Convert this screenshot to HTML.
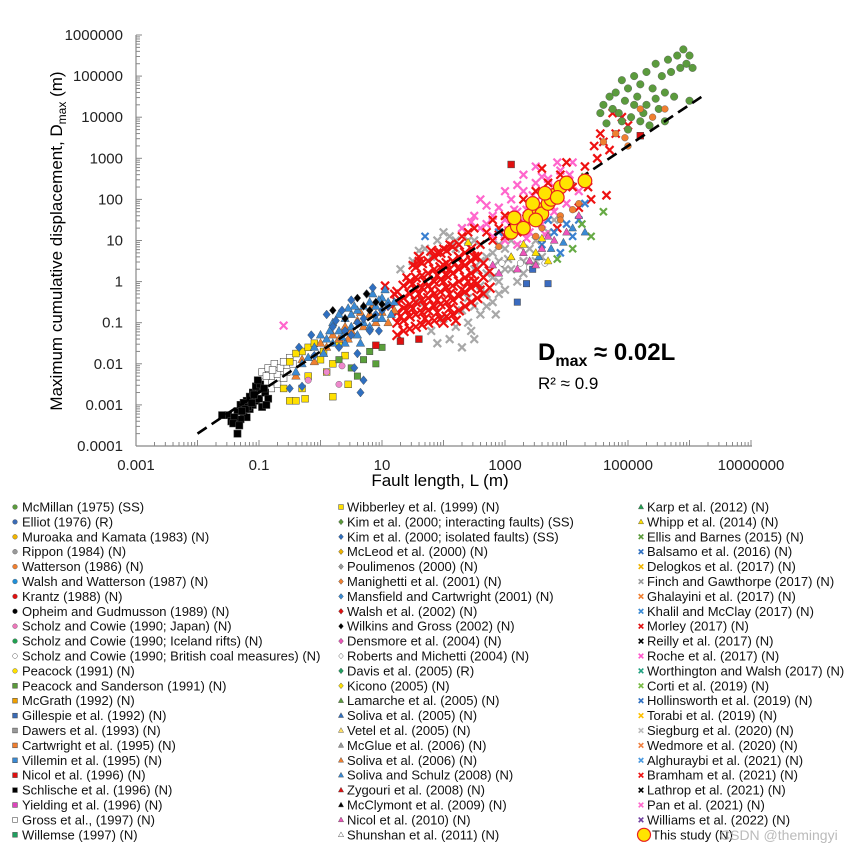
<!DOCTYPE html>
<html><head><meta charset="utf-8"><style>
body{margin:0;background:#fff;width:853px;height:851px;overflow:hidden;font-family:"Liberation Sans",Arial,sans-serif}
svg{display:block}
</style></head><body>
<svg id="chart" width="853" height="851" viewBox="0 0 853 851" xmlns="http://www.w3.org/2000/svg" font-family="Liberation Sans, Arial, sans-serif">
<g id="marks"></g>
<g id="axes"></g>
<text x="538" y="360" font-size="24" font-weight="bold">D<tspan font-size="16" dy="6">max</tspan><tspan dy="-6"> ≈ 0.02L</tspan></text>
<text x="538" y="389" font-size="17">R² ≈ 0.9</text>
<text x="440" y="486" font-size="17" text-anchor="middle">Fault length, L (m)</text>
<text transform="translate(62,241) rotate(-90)" font-size="17" text-anchor="middle">Maximum cumulative  displacement, D<tspan font-size="12" dy="4">max</tspan><tspan dy="-4"> (m)</tspan></text>
<g id="legend"></g>
</svg>
<script>
// log10 values [logL, logD]
const schlische=[[-1.5,-3.25],[-1.45,-3.4],[-1.35,-3.15],[-1.35,-3.7],[-1.3,-3.0],[-1.25,-3.2],[-1.2,-2.9],[-1.2,-3.3],[-1.15,-2.8],[-1.15,-3.1],[-1.1,-2.7],[-1.1,-3.0],[-1.05,-2.9],[-1.0,-2.6],[-1.0,-2.85],[-0.95,-3.05],[-0.9,-2.7],[-1.25,-2.95],[-1.3,-3.35],[-1.4,-3.3],[-1.05,-2.55],[-1.18,-3.05],[-1.08,-2.75],[-0.98,-2.5],[-1.22,-3.1],[-1.12,-2.95],[-1.28,-3.15],[-0.85,-2.85],[-0.88,-3.0],[-1.6,-3.25],[-1.42,-3.45],[-1.32,-3.5],[-1.02,-2.4],[-0.92,-2.6]];
const gross=[[-0.95,-2.2],[-0.9,-2.45],[-0.85,-2.1],[-0.8,-2.3],[-0.75,-2.0],[-0.7,-2.25],[-0.65,-2.1],[-0.6,-1.95],[-0.55,-2.2],[-0.5,-1.85],[-0.45,-2.0],[-0.8,-2.6],[-1.0,-2.5],[-0.7,-2.5],[-0.6,-2.35],[-0.88,-2.3],[-0.78,-2.15]];
const wibberley=[[-0.6,-2.6],[-0.5,-2.9],[-0.4,-2.9],[-0.3,-2.6],[-0.2,-2.3],[-0.3,-1.7],[-0.2,-1.6],[0.0,-1.9],[0.1,-2.2],[0.2,-2.0],[0.3,-1.5],[0.4,-1.8],[-0.1,-1.5],[0.2,-2.8],[0.45,-2.5],[-0.4,-1.75],[-0.5,-1.95],[-0.25,-2.85],[0.05,-1.7]];
const kimIsolated=[[-0.5,-2.6],[-0.3,-2.55],[-0.1,-1.8],[0.3,-1.6],[0.5,-1.3],[0.6,-1.0],[0.7,-2.4],[0.8,-1.2],[0.9,-0.8],[1.0,-0.7],[0.55,-2.1],[0.7,-0.9],[0.4,-1.2],[1.1,-0.6],[0.2,-1.1],[0.65,-2.7],[0.1,-0.8],[0.35,-0.7],[0.5,-0.45],[0.75,-0.3],[0.85,-0.15],[0.25,-0.95],[-0.15,-1.3],[-0.35,-1.6],[0.6,-1.75],[0.95,-1.2]];
const blueTri=[[0.0,-1.3],[0.1,-1.4],[0.2,-1.0],[0.3,-1.2],[0.4,-0.9],[0.5,-0.8],[0.6,-0.7],[0.7,-0.6],[0.8,-0.5],[0.9,-0.6],[1.0,-0.4],[1.1,-0.5],[0.5,-1.1],[0.7,-1.0],[0.9,-0.9],[0.3,-0.8],[0.6,-1.3],[0.8,-1.1],[1.0,-0.9],[1.2,-0.5],[0.4,-1.5],[0.2,-1.5],[0.15,-1.2],[-0.1,-1.6],[-0.3,-2.0],[-0.2,-1.85],[0.05,-1.75],[0.35,-1.35],[0.55,-0.6],[0.85,-0.3],[1.05,-0.2],[1.15,-0.8],[0.65,-1.5],[-0.4,-2.2],[0.45,-0.65],[0.95,-0.45]];
const orangeTri=[[0.1,-1.6],[0.3,-1.4],[0.5,-1.2],[0.7,-1.1],[0.9,-1.0],[1.0,-0.75],[0.6,-0.95],[0.8,-0.8],[0.4,-1.1],[1.2,-0.7],[-0.3,-1.9],[-0.4,-2.3],[0.0,-1.5],[0.2,-1.3],[0.65,-0.75],[0.85,-0.6],[1.1,-1.0],[0.45,-1.4],[-0.1,-1.95]];
const blackDia=[[0.7,-0.6],[0.9,-0.5],[0.8,-0.7],[0.4,-0.9],[1.0,-0.55],[0.6,-0.4],[0.75,-0.3],[0.2,-0.7]];
const greenSq=[[1.0,-1.6],[0.8,-1.7],[0.7,-1.9],[0.6,-2.3],[0.9,-2.0],[0.3,-1.9],[0.5,-2.1]];
const pinkCirc=[[0.1,-2.2],[0.3,-2.5],[0.35,-2.05],[-0.2,-2.4]];
const redSq=[[1.3,-1.45],[1.6,-1.4],[3.1,2.85],[5.2,3.55],[0.9,-1.55]];
const redCore=[[1.25,-1.3],[1.25,-1.0],[1.25,-0.75],[1.25,-0.5],[1.25,-0.25],[1.35,-1.2],[1.35,-0.95],[1.35,-0.65],[1.35,-0.4],[1.35,-0.1],[1.45,-1.15],[1.45,-0.85],[1.45,-0.55],[1.45,-0.3],[1.45,0.0],[1.55,-1.1],[1.55,-0.8],[1.55,-0.5],[1.55,-0.2],[1.55,0.1],[1.55,0.35],[1.65,-1.05],[1.65,-0.75],[1.65,-0.45],[1.65,-0.15],[1.65,0.15],[1.65,0.45],[1.75,-1.0],[1.75,-0.7],[1.75,-0.4],[1.75,-0.1],[1.75,0.2],[1.75,0.5],[1.85,-0.95],[1.85,-0.6],[1.85,-0.3],[1.85,0.0],[1.85,0.3],[1.85,0.6],[1.95,-0.9],[1.95,-0.55],[1.95,-0.25],[1.95,0.05],[1.95,0.35],[1.95,0.7],[2.05,-0.85],[2.05,-0.5],[2.05,-0.15],[2.05,0.15],[2.05,0.45],[2.05,0.75],[2.15,-0.8],[2.15,-0.45],[2.15,-0.1],[2.15,0.2],[2.15,0.5],[2.15,0.85],[2.25,-0.7],[2.25,-0.35],[2.25,0.0],[2.25,0.3],[2.25,0.6],[2.25,0.9],[2.35,-0.6],[2.35,-0.25],[2.35,0.1],[2.35,0.4],[2.35,0.7],[2.45,-0.5],[2.45,-0.15],[2.45,0.2],[2.45,0.5],[2.45,0.8],[2.55,-0.4],[2.55,-0.05],[2.55,0.3],[2.55,0.6],[2.65,-0.3],[2.65,0.1],[2.65,0.45],[2.75,-0.15],[2.75,0.25],[1.3,-0.85],[1.3,-0.45],[1.5,-0.65],[1.5,-0.05],[1.7,-0.6],[1.7,0.0],[1.7,-0.9],[1.9,-0.45],[1.9,0.15],[1.9,-0.75],[2.1,-0.3],[2.1,0.3],[2.1,-0.65],[2.3,-0.2],[2.3,0.45],[2.5,0.0],[2.5,0.6],[1.6,0.6],[1.8,0.75],[2.0,-1.0],[2.2,-0.95],[1.8,-0.2],[2.0,0.0],[2.0,0.4],[1.6,-0.3],[2.4,0.0],[1.4,-0.7]];
const redX=[[1.2,-0.3],[1.4,0.1],[1.5,0.4],[1.6,0.5],[1.9,0.7],[2.0,0.8],[2.1,0.9],[2.3,1.1],[2.4,1.2],[2.5,1.3],[2.6,0.9],[2.7,1.2],[2.8,1.0],[2.8,1.5],[2.9,1.3],[3.0,1.1],[3.0,1.6],[2.6,-0.2],[1.15,-0.6],[1.05,-0.1],[3.3,2.0],[3.5,2.2],[3.7,2.4],[3.9,2.6],[4.1,2.3],[4.3,2.8],[4.5,3.0],[4.4,2.0],[4.6,3.4],[4.8,3.6],[4.9,4.0],[5.0,3.8],[4.7,3.2],[3.2,1.2],[3.4,1.5],[4.2,1.8],[4.65,2.1],[4.55,3.6],[4.75,4.1],[3.85,1.3],[4.0,2.9],[3.6,2.75],[4.45,3.3],[4.35,2.3]];
const grayX=[[1.6,-0.5],[1.8,-1.2],[2.0,-0.9],[2.1,-1.4],[2.2,-1.1],[2.3,-0.7],[2.4,-1.0],[2.5,-0.6],[2.6,-0.8],[2.7,-0.3],[2.8,-0.5],[2.9,0.0],[3.0,-0.2],[3.1,0.3],[3.2,0.0],[3.3,0.5],[3.4,0.8],[3.5,1.0],[3.6,0.6],[3.0,0.8],[2.8,0.7],[2.6,0.9],[2.4,1.0],[2.2,0.8],[2.0,1.2],[1.8,0.6],[1.5,0.5],[1.3,0.3],[3.7,1.2],[3.8,1.5],[3.2,1.3],[2.5,-1.4],[2.3,-1.6],[1.9,-1.5],[2.7,0.2],[2.9,0.5],[2.5,0.3],[3.1,1.0],[1.7,0.8],[1.9,1.0],[2.1,1.1],[2.3,1.3],[2.5,1.0],[2.7,0.6],[2.9,0.9],[3.0,0.3],[2.8,0.1],[2.6,-0.1],[2.4,-0.4],[2.7,-0.6],[2.9,-0.3],[3.3,0.2],[3.5,0.5],[1.6,0.75],[2.2,1.0],[2.6,0.5],[3.05,0.55],[3.25,0.85],[2.85,-0.8],[2.45,-1.2]];
const pinkX=[[2.3,1.3],[2.5,1.6],[2.7,1.4],[2.9,1.8],[3.0,1.5],[3.1,2.0],[3.2,1.7],[3.3,2.2],[3.4,1.9],[3.5,2.4],[3.6,2.1],[3.7,2.5],[3.8,2.3],[3.9,2.7],[4.0,2.4],[4.1,2.9],[2.8,1.1],[3.0,1.0],[3.2,0.9],[3.4,1.2],[3.6,1.4],[3.8,1.7],[4.0,1.9],[4.2,2.2],[3.3,2.6],[3.5,2.8],[2.6,2.0],[-0.6,-1.07],[3.1,1.4],[3.7,2.0],[2.6,1.3],[2.8,1.6],[2.9,1.2],[3.0,2.2],[3.15,1.75],[3.25,1.45],[3.35,1.75],[3.45,2.1],[3.55,1.6],[3.75,1.85],[3.9,2.1],[4.05,2.6],[2.7,1.85],[3.05,1.25],[3.35,1.05],[3.65,1.15],[2.45,1.45],[3.2,2.35],[3.85,2.9],[3.6,2.55]];
const pinkTri=[[3.4,0.5],[3.6,0.8],[3.8,1.0],[4.0,1.2],[4.2,1.6],[3.2,0.3],[2.9,0.2],[3.3,0.7],[3.5,0.4],[3.7,1.1],[3.1,0.6],[2.8,0.4]];
const blueX=[[3.6,0.9],[3.8,1.2],[4.0,1.4],[4.2,1.5],[4.3,1.9],[2.9,1.2],[3.9,0.7],[4.1,1.1],[3.7,1.5],[1.7,1.1]];
const blueTriR=[[4.1,1.3],[4.3,1.2],[3.95,0.95],[3.55,0.6],[3.75,0.8]];
const yellowTri=[[3.3,0.9],[3.5,0.7],[3.7,0.5],[3.1,0.6],[2.4,0.95],[3.6,1.05]];
const whiteCirc=[[3.25,0.45],[3.4,0.35],[2.95,0.45],[3.65,0.45]];
const orangeCirc=[[3.6,1.3],[3.9,1.5],[4.2,1.9],[2.9,0.85],[3.35,1.3]];
const blueSq=[[3.35,-0.05],[3.7,-0.05],[3.2,-0.5],[3.45,0.3]];
const greenX=[[4.1,0.8],[4.4,1.1],[4.25,1.4],[4.6,1.7],[4.3,2.55],[3.85,0.55]];
const mcmillan=[[4.55,4.1],[4.6,4.3],[4.7,4.5],[4.75,4.2],[4.8,4.6],[4.85,4.1],[4.9,4.9],[4.95,4.4],[5.0,4.7],[5.05,4.0],[5.1,5.0],[5.15,4.5],[5.2,4.8],[5.2,3.9],[5.3,5.1],[5.3,4.3],[5.4,4.7],[5.45,5.3],[5.5,4.2],[5.55,5.0],[5.6,4.6],[5.65,5.4],[5.7,5.1],[5.75,4.5],[5.8,5.5],[5.85,5.2],[5.9,5.65],[5.95,5.3],[6.0,5.5],[6.05,5.2],[6.0,4.4],[5.35,3.8],[5.0,3.7],[4.9,3.9],[5.6,3.9],[4.65,3.85],[5.1,4.3],[5.45,4.45],[5.25,4.1]];
const watterson=[[4.8,3.6],[5.0,3.3],[5.4,4.0],[5.6,4.2],[4.6,3.4],[3.5,1.1],[3.9,1.6],[4.1,1.75],[5.2,4.2],[4.95,3.5]];
const thisStudy=[[3.1,1.2],[3.2,1.35],[3.3,1.3],[3.15,1.55],[3.4,1.6],[3.55,1.75],[3.45,1.9],[3.6,1.65],[3.7,1.9],[3.8,2.1],[3.75,2.0],[3.9,2.3],[4.0,2.4],[4.3,2.45],[3.5,1.5],[3.65,2.15],[3.85,2.05]];
const fitCoef=0.02, fitStart=-2, fitEnd=6.2;
const xTicks=["0.001","0.1","10","1000","100000","10000000"];
const yTicks=["0.0001","0.001","0.01","0.1","1","10","100","1000","10000","100000","1000000"];

const NS="http://www.w3.org/2000/svg";
const X=l=>136+61.5*(l+3), Y=d=>446-41.1*(d+4);
const marks=document.getElementById('marks');
function mk(tag,a,p){const e=document.createElementNS(NS,tag);for(const k in a)e.setAttribute(k,a[k]);(p||marks).appendChild(e);return e;}
function marker(shape,x,y,c,s,p){
  s=s||3.2;let e;
  if(shape==='c') e=mk('circle',{cx:x,cy:y,r:s,fill:c,stroke:c==='#fff'?'#333':'#555','stroke-width':0.4},p);
  else if(shape==='s') e=mk('rect',{x:x-s,y:y-s,width:2*s,height:2*s,fill:c,stroke:c==='#fff'?'#333':'#444','stroke-width':0.5},p);
  else if(shape==='d') e=mk('path',{d:`M${x} ${y-s*1.2}L${x+s} ${y}L${x} ${y+s*1.2}L${x-s} ${y}Z`,fill:c,stroke:c==='#fff'?'#333':'#444','stroke-width':0.4},p);
  else if(shape==='t') e=mk('path',{d:`M${x} ${y-s*1.2}L${x+s*1.1} ${y+s*0.8}L${x-s*1.1} ${y+s*0.8}Z`,fill:c,stroke:c==='#fff'?'#333':'#444','stroke-width':0.4},p);
  else if(shape==='x') e=mk('path',{d:`M${x-s} ${y-s}L${x+s} ${y+s}M${x+s} ${y-s}L${x-s} ${y+s}`,stroke:c,'stroke-width':p?1.6:2.2,fill:'none'},p);
  else if(shape==='b') e=mk('circle',{cx:x,cy:y,r:s,fill:'#ffe400',stroke:'#e82020','stroke-width':1.2},p);
  return e;
}
function series(arr,shape,color,name,size){
  arr.forEach(p=>{const e=marker(shape,X(p[0]),Y(p[1]),color,size);
    
    });
}
series(grayX,'x','#a8a8a8','gray-x-point',3.8);
series(pinkX,'x','#ff66cc','pink-x-point',3.8);
series(redX,'x','#ee1111','red-x-point',4);
series(redCore,'x','#ee1111','red-core-point',4.8);
series(blueX,'x','#3a80d0','blue-x-point',3.5);
series(greenX,'x','#66aa44','green-x-point',3.5);
series(mcmillan,'c','#5b9b3d','mcmillan-point',3.8);
series(watterson,'c','#f07f30','watterson-point',3.4);
series(orangeCirc,'c','#f07f30','orange-circle-point',3.2);
series(whiteCirc,'c','#fff','white-circle-point',3.2);
series(gross,'s','#fff','gross-point',3.4);
series(schlische,'s','#000','schlische-point',3.6);
series(wibberley,'s','#ffe000','wibberley-point',3.4);
series(greenSq,'s','#5aa03a','green-square-point',3.2);
series(redSq,'s','#e01010','nicol-point',3.4);
series(blueSq,'s','#3a6bc0','gillespie-point',3.2);
series(pinkCirc,'c','#ee88cc','pink-circle-point',3.2);
series(orangeTri,'t','#f08030','orange-triangle-point',3.9);
series(blueTri,'t','#3a8ad4','blue-triangle-point',3.9);
series(kimIsolated,'d','#2f6fc0','kim-isolated-point',3.7);
series(blackDia,'d','#000','black-diamond-point',3.4);
series(pinkTri,'t','#ee55bb','pink-triangle-point',3.6);
series(blueTriR,'t','#3a8ad4','blue-triangle-right-point',3.6);
series(yellowTri,'t','#ffe000','yellow-triangle-point',3.6);
// fit line
const fl=mk('line',{x1:X(fitStart),y1:Y(fitStart+Math.log10(fitCoef)),x2:X(fitEnd),y2:Y(fitEnd+Math.log10(fitCoef)),stroke:'#000','stroke-width':2.6,'stroke-dasharray':'11,6'});


series(thisStudy,'b','#ffe400','this-study-point',6.8);

// axes
const ax=document.getElementById('axes');
const xa=mk('line',{x1:136,y1:446,x2:752,y2:446,stroke:'#888','stroke-width':1.2},ax);


const ya=mk('line',{x1:136,y1:35,x2:136,y2:446,stroke:'#888','stroke-width':1.2},ax);


for(let d=-3;d<7;d++)for(let m=2;m<=10;m++){const lx=X(d+Math.log10(m));mk('line',{x1:lx,y1:446,x2:lx,y2:m===10?440:442,stroke:'#888','stroke-width':1},ax);}
for(let d=-4;d<6;d++)for(let m=2;m<=10;m++){const ly=Y(d+Math.log10(m));mk('line',{x1:136,y1:ly,x2:m===10?142:140,y2:ly,stroke:'#888','stroke-width':1},ax);}
mk('line',{x1:136,y1:35,x2:142,y2:35,stroke:'#888'},ax);
xTicks.forEach((t,i)=>{const e=mk('text',{x:X(-3+2*i),y:470,'font-size':15,'text-anchor':'middle',fill:'#222'},ax);e.textContent=t;
  
  });
yTicks.forEach((t,i)=>{const e=mk('text',{x:123,y:Y(-4+i)+5,'font-size':15,'text-anchor':'end',fill:'#222'},ax);e.textContent=t;
  
  });

// legend
const legendCols=[
[["c","#5b9b3d","McMillan (1975) (SS)"],["c","#3a6bb5","Elliot (1976) (R)"],["c","#f0b400","Muroaka and Kamata (1983) (N)"],["c","#999","Rippon (1984) (N)"],["c","#f07f30","Watterson (1986) (N)"],["c","#1f8fd8","Walsh and Watterson (1987) (N)"],["c","#e01010","Krantz (1988) (N)"],["c","#000","Opheim and Gudmusson (1989) (N)"],["c","#ee77bb","Scholz and Cowie (1990; Japan) (N)"],["c","#20a050","Scholz and Cowie (1990; Iceland rifts) (N)"],["c","#fff","Scholz and Cowie (1990; British coal measures) (N)"],["c","#ffe000","Peacock (1991) (N)"],["s","#5a9a3a","Peacock and Sanderson (1991) (N)"],["s","#f0a000","McGrath (1992) (N)"],["s","#3a6bb5","Gillespie et al. (1992) (N)"],["s","#999","Dawers et al. (1993) (N)"],["s","#f07f30","Cartwright et al. (1995) (N)"],["s","#3a8ad4","Villemin et al. (1995) (N)"],["s","#e01010","Nicol et al. (1996) (N)"],["s","#000","Schlische et al. (1996) (N)"],["s","#dd44bb","Yielding et al. (1996) (N)"],["s","#fff","Gross et al., (1997) (N)"],["s","#20a060","Willemse (1997) (N)"]],
[["s","#ffe000","Wibberley et al. (1999) (N)"],["d","#5a9a3a","Kim et al. (2000; interacting faults) (SS)"],["d","#2f6fc0","Kim et al. (2000; isolated faults) (SS)"],["d","#f0b400","McLeod et al. (2000) (N)"],["d","#999","Poulimenos (2000) (N)"],["d","#f07f30","Manighetti et al. (2001) (N)"],["d","#3a8ad4","Mansfield and Cartwright (2001) (N)"],["d","#e01010","Walsh et al. (2002) (N)"],["d","#000","Wilkins and Gross (2002) (N)"],["d","#ee55bb","Densmore et al. (2004) (N)"],["d","#fff","Roberts and Michetti (2004) (N)"],["d","#20a060","Davis et al. (2005) (R)"],["d","#ffe000","Kicono (2005) (N)"],["t","#5a9a3a","Lamarche et al. (2005) (N)"],["t","#2f6fc0","Soliva et al. (2005) (N)"],["t","#ffe066","Vetel et al. (2005) (N)"],["t","#999","McGlue et al. (2006) (N)"],["t","#f07f30","Soliva et al. (2006) (N)"],["t","#3a8ad4","Soliva and Schulz (2008) (N)"],["t","#e01010","Zygouri et al. (2008) (N)"],["t","#000","McClymont et al. (2009) (N)"],["t","#ee55bb","Nicol et al. (2010) (N)"],["t","#fff","Shunshan et al. (2011) (N)"]],
[["t","#20a050","Karp et al. (2012) (N)"],["t","#ffe000","Whipp et al. (2014) (N)"],["x","#5a9a3a","Ellis and Barnes (2015) (N)"],["x","#2f6fc0","Balsamo et al. (2016) (N)"],["x","#f0b400","Delogkos et al. (2017) (N)"],["x","#999","Finch and Gawthorpe (2017) (N)"],["x","#f07f30","Ghalayini et al. (2017) (N)"],["x","#3a8ad4","Khalil and McClay (2017) (N)"],["x","#e01010","Morley (2017) (N)"],["x","#000","Reilly et al. (2017) (N)"],["x","#ff55cc","Roche et al. (2017) (N)"],["x","#20a080","Worthington and Walsh (2017) (N)"],["x","#77bb44","Corti et al. (2019) (N)"],["x","#2f6fc0","Hollinsworth et al. (2019) (N)"],["x","#ffc000","Torabi et al. (2019) (N)"],["x","#bbb","Siegburg et al. (2020) (N)"],["x","#f08040","Wedmore et al. (2020) (N)"],["x","#4a9ae0","Alghuraybi et al. (2021) (N)"],["x","#ee1111","Bramham et al. (2021) (N)"],["x","#000","Lathrop et al. (2021) (N)"],["x","#ff66cc","Pan et al. (2021) (N)"],["x","#7040a0","Williams et al. (2022) (N)"],["b","#ffe400","This study (N)"]]];
const colX=[[15,22],[341,347],[641,647]];
const lg=document.getElementById('legend');
legendCols.forEach((col,ci)=>col.forEach((it,ri)=>{
  const y=507+ri*14.9;
  const g=mk('g',{},lg);
  
  
  const big=it[0]==='b';
  marker(it[0],big?colX[ci][0]+3:colX[ci][0],y,it[1],big?6.5:(it[0]==='x'?2.3:2.4),g);
  const t=mk('text',{x:big?colX[ci][1]+5:colX[ci][1],y:y+4.5,'font-size':13,fill:'#111'},g);
  t.textContent=it[2];
}));
const wm=mk('text',{x:720,y:840,'font-size':14,fill:'#bbb','text-anchor':'start'},lg);
wm.textContent='CSDN @themingyi';


</script>
</body></html>
